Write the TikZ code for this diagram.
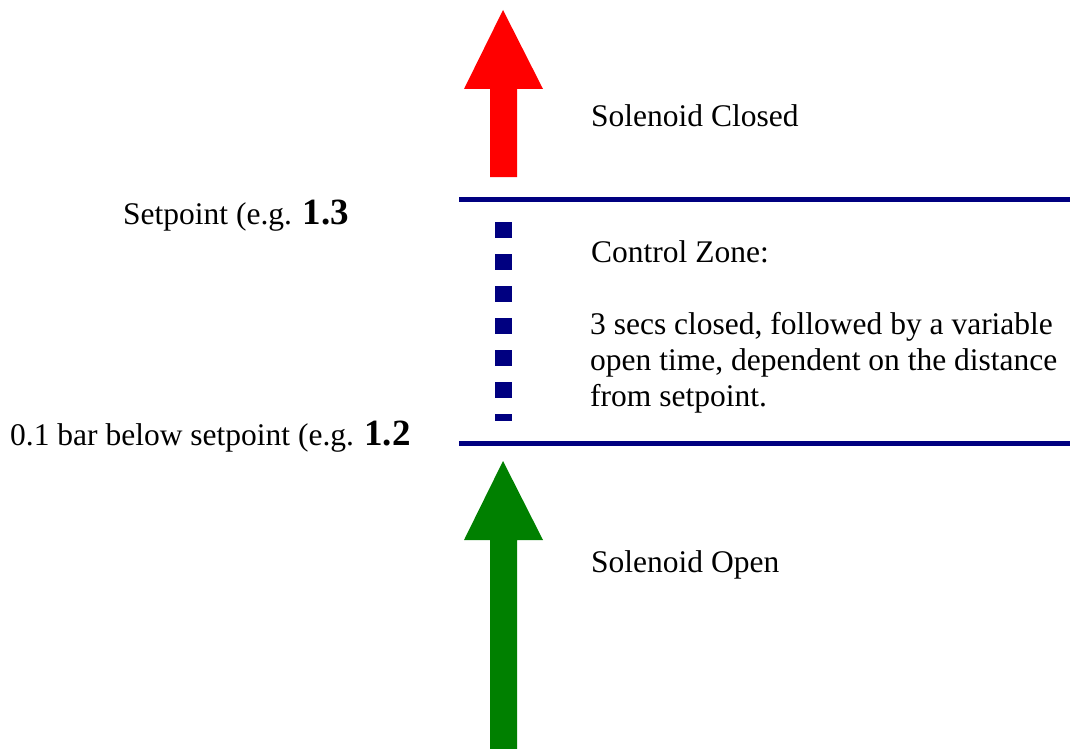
\documentclass[tikz,border=0pt]{standalone}
\usepackage{fontspec}
\setmainfont{Liberation Serif}
\definecolor{navyline}{RGB}{0,0,128}
\definecolor{arrred}{RGB}{255,0,0}
\definecolor{arrgreen}{RGB}{0,128,0}
\tikzset{
  lbl/.style={anchor=base west, inner sep=0pt, font=\fontsize{31.5}{36}\selectfont},
  big/.style={font=\fontsize{37}{40}\selectfont\bfseries},
  level/.style={draw=navyline, line width=5pt},
  zone/.style={draw=navyline, line width=17pt, dash pattern=on 16pt off 16pt},
}
\begin{document}
\begin{tikzpicture}[x=1pt,y=-1pt]
\useasboundingbox (0,0) rectangle (1070,749);
% red arrow (Solenoid Closed)
\fill[arrred] (503,10) -- (543,89) -- (517,89) -- (517,177) -- (490,177) -- (490,89) -- (464,89) -- cycle;
% green arrow (Solenoid Open)
\fill[arrgreen] (503,461) -- (543,540) -- (517,540) -- (517,749) -- (490,749) -- (490,540) -- (464,540) -- cycle;
% level lines
\coordinate (spL) at (459,199);
\coordinate (spR) at (1070,199);
\coordinate (lowL) at (459,443.5);
\coordinate (lowR) at (1070,443.5);
\draw[level] (spL) -- (spR);
\draw[level] (lowL) -- (lowR);
% control zone dotted line
\coordinate (zTop) at (503,222);
\coordinate (zBot) at (503,421);
\draw[zone] (zTop) -- (zBot);
% labels
\node[lbl] (closed) at (591,127) {Solenoid Closed};
\node[lbl] (cz1) at (591,262) {Control Zone:};
\node[lbl] (cz2) at (590,334) {3 secs closed, followed by a variable};
\node[lbl] (cz3) at (590,370) {open time, dependent on the distance};
\node[lbl] (cz4) at (590,406) {from setpoint.};
\node[lbl] (open) at (591,572) {Solenoid Open};
\node[lbl] (setp) at (123,224) {Setpoint (e.g. {\fontsize{37}{40}\selectfont\bfseries 1.3}};
\node[lbl] (below) at (10,445) {0.1 bar below setpoint (e.g. {\fontsize{37}{40}\selectfont\bfseries 1.2}};
\end{tikzpicture}
\end{document}
